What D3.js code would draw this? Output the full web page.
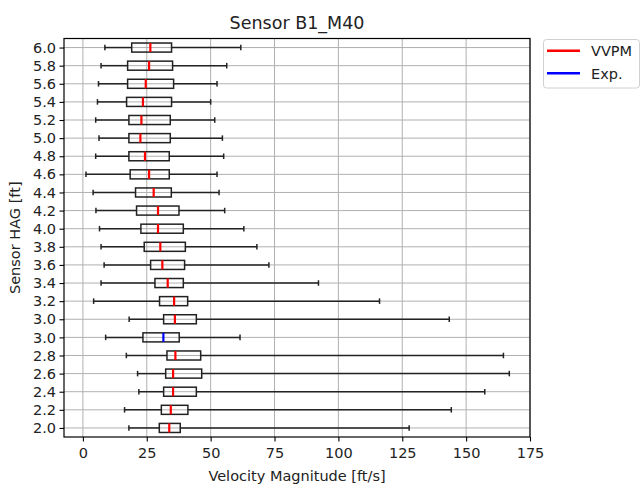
<!DOCTYPE html>
<html>
<head>
<meta charset="utf-8">
<script src="https://cdn.jsdelivr.net/npm/d3@7"></script>
<style>
  body { margin: 0; background: #fff; }
  text { font-family: "DejaVu Sans", sans-serif; fill: #222; }
</style>
</head>
<body>
<svg id="chart" width="642" height="490"></svg>
<script>
// rows listed bottom to top
const labels = ['2.0', '2.2', '2.4', '2.6', '2.8', '3.0', '3.0', '3.2', '3.4', '3.6', '3.8',
  '4.0', '4.2', '4.4', '4.6', '4.8', '5.0', '5.2', '5.4', '5.6', '5.8', '6.0'];
const series = ['VVPM', 'VVPM', 'VVPM', 'VVPM', 'VVPM', 'Exp.', 'VVPM', 'VVPM', 'VVPM', 'VVPM', 'VVPM',
  'VVPM', 'VVPM', 'VVPM', 'VVPM', 'VVPM', 'VVPM', 'VVPM', 'VVPM', 'VVPM', 'VVPM', 'VVPM'];
const whiskerLow = [18.0, 16.3, 21.9, 21.4, 17.0, 8.9, 18.1, 4.2, 7.1, 8.3, 7.1,
  6.5, 5.1, 4.0, 1.2, 5.0, 6.3, 5.0, 5.7, 6.1, 7.1, 8.6];
const q1 = [29.9, 30.7, 31.6, 32.4, 32.9, 23.5, 31.6, 30.0, 28.2, 26.5, 24.0,
  22.7, 21.0, 20.6, 18.5, 18.0, 18.0, 18.0, 17.1, 17.5, 17.5, 19.1];
const median = [33.8, 34.4, 35.3, 35.3, 36.2, 31.5, 36.0, 35.7, 33.2, 31.1, 30.3,
  29.4, 29.4, 27.7, 25.9, 24.3, 22.5, 22.9, 23.5, 24.6, 25.9, 26.4];
const q3 = [38.1, 41.1, 44.4, 46.5, 46.1, 37.7, 44.4, 41.0, 39.3, 39.8, 40.1,
  39.3, 37.6, 34.6, 33.8, 33.8, 34.2, 34.2, 34.7, 35.5, 35.1, 34.7];
const whiskerHigh = [127.7, 144.2, 157.3, 166.9, 164.6, 61.5, 143.4, 116.1, 92.2, 72.8, 68.1,
  63.0, 55.5, 53.3, 52.5, 55.1, 54.6, 51.6, 50.0, 52.5, 56.3, 61.8];
const xTicks = [0, 25, 50, 75, 100, 125, 150, 175];
const legendItems = ['VVPM', 'Exp.'];
const colors = { 'VVPM': '#ff0000', 'Exp.': '#0000ff' };

const rows = labels.map((l, i) => ({
  pos: i + 1, label: l, series: series[i],
  lo: whiskerLow[i], q1: q1[i], med: median[i], q3: q3[i], hi: whiskerHigh[i]
}));

const plotL = 64, plotR = 530, plotT = 38.5, plotB = 437;
const svg = d3.select('#chart');

const x = d3.scaleLinear().domain([-7.4, 175]).range([plotL, plotR]);
const y = d3.scaleLinear().domain([0.5, labels.length + 0.5]).range([plotB, plotT]);
const rowH = y(1) - y(2);
const boxH = rowH * 0.5;
const capH = rowH * 0.25;

// grid
const grid = svg.append('g').attr('class', 'grid')
  .attr('stroke', '#b0b0b0').attr('stroke-width', 1);
grid.selectAll('line.gx').data(xTicks).enter().append('line')
  .attr('x1', (d) => x(d)).attr('x2', (d) => x(d))
  .attr('y1', plotT).attr('y2', plotB);
grid.selectAll('line.gy').data(rows).enter().append('line')
  .attr('x1', plotL).attr('x2', plotR)
  .attr('y1', (d) => y(d.pos)).attr('y2', (d) => y(d.pos));

// axes
const xAxis = svg.append('g').attr('transform', `translate(0,${plotB})`)
  .call(d3.axisBottom(x).tickValues(xTicks).tickSize(4.5).tickPadding(5).tickFormat(d3.format('d')));
const yAxis = svg.append('g').attr('transform', `translate(${plotL},0)`)
  .call(d3.axisLeft(y).tickValues(rows.map((d) => d.pos)).tickSize(4.5).tickPadding(3.5)
    .tickFormat((d) => labels[d - 1]));
[xAxis, yAxis].forEach((a) => {
  a.select('.domain').remove();
  a.selectAll('.tick line').attr('stroke', '#000').attr('stroke-width', 1.1);
  a.selectAll('.tick text').style('font-size', '14.5px').attr('fill', '#222');
});
xAxis.selectAll('.tick text').attr('dy', '0.78em');

// boxes
const boxes = svg.append('g').attr('class', 'boxes');
const b = boxes.selectAll('g.box').data(rows).enter().append('g').attr('class', 'box');
b.append('line').attr('class', 'whisker')
  .attr('x1', (d) => x(d.lo)).attr('x2', (d) => x(d.q1))
  .attr('y1', (d) => y(d.pos)).attr('y2', (d) => y(d.pos));
b.append('line').attr('class', 'whisker')
  .attr('x1', (d) => x(d.q3)).attr('x2', (d) => x(d.hi))
  .attr('y1', (d) => y(d.pos)).attr('y2', (d) => y(d.pos));
b.append('line').attr('class', 'cap')
  .attr('x1', (d) => x(d.lo)).attr('x2', (d) => x(d.lo))
  .attr('y1', (d) => y(d.pos) - capH / 2 - 0.5).attr('y2', (d) => y(d.pos) + capH / 2 + 0.5);
b.append('line').attr('class', 'cap')
  .attr('x1', (d) => x(d.hi)).attr('x2', (d) => x(d.hi))
  .attr('y1', (d) => y(d.pos) - capH / 2 - 0.5).attr('y2', (d) => y(d.pos) + capH / 2 + 0.5);
b.selectAll('line').attr('stroke', '#222').attr('stroke-width', 1.5);
b.append('rect')
  .attr('x', (d) => x(d.q1)).attr('width', (d) => x(d.q3) - x(d.q1))
  .attr('y', (d) => y(d.pos) - boxH / 2).attr('height', boxH)
  .attr('fill', 'none').attr('stroke', '#222').attr('stroke-width', 1.5);
b.append('line').attr('class', 'median')
  .attr('x1', (d) => x(d.med)).attr('x2', (d) => x(d.med))
  .attr('y1', (d) => y(d.pos) - boxH / 2).attr('y2', (d) => y(d.pos) + boxH / 2)
  .attr('stroke', (d) => colors[d.series]).attr('stroke-width', 2.2);

// frame
svg.append('rect').attr('x', plotL).attr('y', plotT)
  .attr('width', plotR - plotL).attr('height', plotB - plotT)
  .attr('fill', 'none').attr('stroke', '#000').attr('stroke-width', 1.2);

// labels
svg.append('text').attr('x', (plotL + plotR) / 2).attr('y', 28.5)
  .attr('text-anchor', 'middle').style('font-size', '17.5px').text('Sensor B1_M40');
svg.append('text').attr('x', (plotL + plotR) / 2).attr('y', 481)
  .attr('text-anchor', 'middle').style('font-size', '14.5px').text('Velocity Magnitude [ft/s]');
svg.append('text').attr('transform', `translate(20,${(plotT + plotB) / 2}) rotate(-90)`)
  .attr('text-anchor', 'middle').style('font-size', '14.5px').text('Sensor HAG [ft]');

// legend
const legend = svg.append('g').attr('class', 'legend');
legend.append('rect').attr('x', 543.5).attr('y', 39.5).attr('width', 96).attr('height', 48.5)
  .attr('rx', 3).attr('fill', '#fff').attr('stroke', '#d0d0d0').attr('stroke-width', 1);
const li = legend.selectAll('g.item').data(legendItems).enter().append('g')
  .attr('transform', (d, i) => `translate(0,${50.7 + i * 22.6})`);
li.append('line').attr('x1', 547).attr('x2', 580).attr('y1', 0).attr('y2', 0)
  .attr('stroke', (d) => colors[d]).attr('stroke-width', 2.5);
li.append('text').attr('x', 591).attr('y', 0).attr('dy', '0.36em')
  .style('font-size', '14.5px').text((d) => d);
</script>
</body>
</html>
